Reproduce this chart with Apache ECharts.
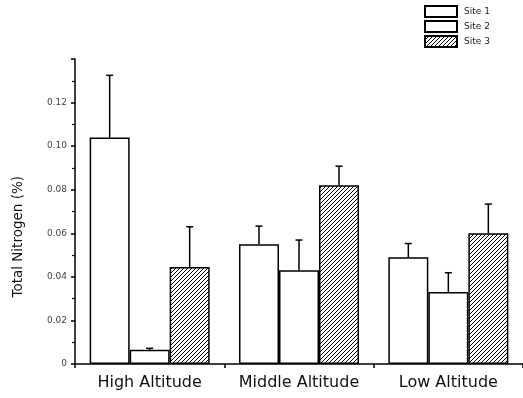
<!DOCTYPE html>
<html>
<head>
<meta charset="utf-8">
<script src="https://cdn.jsdelivr.net/npm/echarts@6/dist/echarts.min.js"></script>
<style>html,body{margin:0;padding:0;background:#fff;}#c{width:523px;height:398px;}</style>
</head>
<body>
<div id="c"></div>
<script>
const categories = ['High Altitude', 'Middle Altitude', 'Low Altitude'];
const seriesNames = ['Site 1', 'Site 2', 'Site 3'];
const site1 = [0.104, 0.055, 0.049];
const site2 = [0.0065, 0.043, 0.033];
const site3 = [0.0445, 0.082, 0.060];
const site1Err = [0.1325, 0.0633, 0.0553];
const site2Err = [0.0072, 0.0569, 0.0419];
const site3Err = [0.063, 0.0908, 0.0734];
const yTicks = [0, 0.02, 0.04, 0.06, 0.08, 0.10, 0.12];

const FONT = 'DejaVu Sans';
const BAR_W = 40;

function hatch() {
  const c = document.createElement('canvas');
  c.width = 4; c.height = 4;
  const g = c.getContext('2d');
  g.fillStyle = '#fff'; g.fillRect(0, 0, 4, 4);
  g.strokeStyle = '#000'; g.lineWidth = 1;
  g.beginPath();
  g.moveTo(-1, 5); g.lineTo(5, -1);
  g.moveTo(-1, 1); g.lineTo(1, -1);
  g.moveTo(3, 5); g.lineTo(5, 3);
  g.stroke();
  return c;
}

const fills = ['#fff', '#fff', { image: hatch(), repeat: 'repeat' }];
const values = [site1, site2, site3];
const errs = [site1Err, site2Err, site3Err];

const series = [];
values.forEach((v, i) => {
  series.push({
    name: seriesNames[i],
    type: 'bar',
    data: v,
    barWidth: BAR_W,
    barGap: '0%',
    itemStyle: { color: fills[i], borderColor: '#000', borderWidth: 1.5 },
    emphasis: { disabled: true }
  });
});
errs.forEach((e, i) => {
  const data = e.map((ev, k) => [k, values[i][k], ev]);
  series.push({
    type: 'custom',
    z: 5,
    data: data,
    renderItem: function (params, api) {
      const top = api.coord([api.value(0), api.value(1)]);
      const end = api.coord([api.value(0), api.value(2)]);
      const x = top[0] + (i - 1) * BAR_W;
      return {
        type: 'group',
        children: [
          { type: 'line', shape: { x1: x, y1: top[1], x2: x, y2: end[1] }, style: { stroke: '#000', lineWidth: 1.5 } },
          { type: 'line', shape: { x1: x - 3.5, y1: end[1], x2: x + 3.5, y2: end[1] }, style: { stroke: '#000', lineWidth: 1.5 } }
        ]
      };
    }
  });
});

const chart = echarts.init(document.getElementById('c'), null, { renderer: 'canvas' });
chart.setOption({
  animation: false,
  backgroundColor: '#fff',
  grid: { left: 75, top: 59, width: 455, height: 305, containLabel: false },
  legend: {
    data: seriesNames,
    orient: 'vertical',
    left: 424,
    top: 5,
    padding: 0,
    itemWidth: 32,
    itemHeight: 11,
    itemGap: 2,
    icon: 'rect',
    textStyle: { fontFamily: FONT, fontSize: 9, color: '#222', padding: [0, 0, 0, 2] }
  },
  xAxis: {
    type: 'category',
    data: categories,
    axisLine: { lineStyle: { color: '#000', width: 1.5 } },
    axisTick: { show: true, interval: 0, length: 4, lineStyle: { color: '#000', width: 1.5 } },
    axisLabel: { interval: 0, hideOverlap: false, fontFamily: FONT, fontSize: 16, color: '#111', margin: 11 }
  },
  yAxis: {
    type: 'value',
    min: 0,
    max: 0.14,
    interval: 0.02,
    splitLine: { show: false },
    axisLine: { show: true, lineStyle: { color: '#000', width: 1.5 } },
    axisTick: { show: true, length: 4, lineStyle: { color: '#000', width: 1.5 } },
    minorTick: { show: true, splitNumber: 2, length: 3, lineStyle: { color: '#000', width: 1.2 } },
    axisLabel: {
      fontFamily: FONT, fontSize: 9, color: '#444', margin: 8, showMaxLabel: false,
      formatter: function (v) { return yTicks.indexOf(Math.round(v * 100) / 100) >= 0 ? (v === 0 ? '0' : v.toFixed(2)) : ''; }
    }
  },
  graphic: [{
    type: 'text',
    left: 11,
    top: 176,
    rotation: Math.PI / 2,
    style: { text: 'Total Nitrogen (%)', fontFamily: FONT, fontSize: 13.5, fill: '#111' }
  }],
  series: series
});
</script>
</body>
</html>
